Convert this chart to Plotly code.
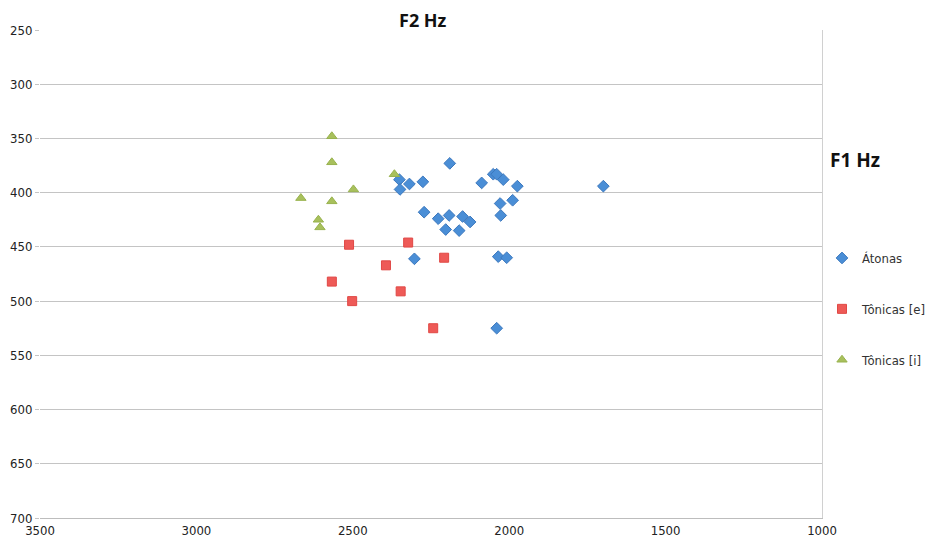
import plotly.graph_objects as go

# Átonas (F2, F1)
atonas_f2 = [2190, 2351, 2349, 2319, 2276, 2088, 2051, 2040, 2019, 1974, 1699, 2029, 1989,
             2027, 2272, 2227, 2192, 2149, 2125, 2203, 2160, 2303, 2035, 2008, 2040]
atonas_f1 = [373, 388, 397, 392, 390, 391, 383, 383, 388, 394, 394, 410, 407,
             421, 418, 424, 421, 422, 427, 434, 435, 461, 459, 460, 525]

# Tônicas [e]
tonicas_e_f2 = [2512, 2323, 2208, 2394, 2567, 2347, 2502, 2243]
tonicas_e_f1 = [448, 446, 460, 467, 482, 491, 500, 525]

# Tônicas [i]
tonicas_i_f2 = [2567, 2567, 2367, 2498, 2666, 2567, 2610, 2605]
tonicas_i_f1 = [348, 372, 383, 397, 405, 408, 425, 432]

x_ticks = [3500, 3000, 2500, 2000, 1500, 1000]
y_ticks = [250, 300, 350, 400, 450, 500, 550, 600, 650, 700]

FONT = "DejaVu Sans Condensed, Liberation Sans Narrow, Open Sans, sans-serif"
TITLE_FONT = "Open Sans, sans-serif"

# page body adds an 8px offset; figure is sized to fit the window
W, H = 932, 538
L, T, PW, PH = 32, 22, 782, 488

fig = go.Figure()
fig.add_trace(go.Scatter(
    x=atonas_f2, y=atonas_f1, mode="markers", name="Átonas", legendgroup="a",
    marker=dict(symbol="diamond", size=9, color="#4A8ED6",
                line=dict(color="#3C78BE", width=1))))
fig.add_trace(go.Scatter(
    x=tonicas_e_f2, y=tonicas_e_f1, mode="markers", name="Tônicas [e]", legendgroup="e",
    marker=dict(symbol="square", size=9, color="#EE5A57",
                line=dict(color="#E04845", width=1))))
fig.add_trace(go.Scatter(
    x=tonicas_i_f2, y=tonicas_i_f1, mode="markers", name="Tônicas [i]", legendgroup="i",
    marker=dict(symbol="triangle-up", size=9, color="#A8C05C",
                line=dict(color="#98B24E", width=1))))
# invisible trace to carry the right-side frame axis
fig.add_trace(go.Scatter(x=[None], y=[None], yaxis="y2", showlegend=False, hoverinfo="skip"))

fig.update_layout(
    template="none",
    width=W, height=H,
    margin=dict(l=L, r=W - L - PW, t=T, b=H - T - PH, autoexpand=False),
    paper_bgcolor="white", plot_bgcolor="white",
    font=dict(family=FONT, size=13, color="#222222"),
    xaxis=dict(range=[3500, 1000], tickvals=x_ticks, ticktext=[str(v) for v in x_ticks],
               showgrid=False, zeroline=False, showline=True, linecolor="#BDBDBD",
               linewidth=1, ticks="", automargin=False,
               tickfont=dict(family=FONT, size=13, color="#222222")),
    yaxis=dict(range=[700, 250], tickvals=y_ticks, ticktext=[str(v) for v in y_ticks],
               showgrid=True, gridcolor="#C4C4C4", gridwidth=1, zeroline=False,
               showline=False, ticks="outside", ticklen=4, tickcolor="#C4C4C4",
               automargin=False,
               tickfont=dict(family=FONT, size=13, color="#222222")),
    yaxis2=dict(overlaying="y", side="right", matches="y", showline=True,
                linecolor="#D0D0D0", linewidth=1, showticklabels=False, showgrid=False,
                zeroline=False, ticks="", automargin=False),
    legend=dict(x=1.0, xanchor="left", y=(PH - (243 - 8 - T)) / PH, yanchor="top",
                tracegroupgap=31, font=dict(family=FONT, size=13, color="#333333"),
                itemwidth=30, bgcolor="rgba(0,0,0,0)"),
    showlegend=True,
    annotations=[
        dict(text="<b>F2 Hz</b>", xref="paper", yref="paper",
             x=(423 - 8 - L) / PW, y=1 + (T - (20 - 8)) / PH, xanchor="center", yanchor="middle",
             showarrow=False, borderpad=0,
             font=dict(family=TITLE_FONT, size=18, color="#111111")),
        dict(text="<b>F1 Hz</b>", xref="paper", yref="paper",
             x=(855 - 8 - L) / PW, y=(PH - (160 - 8 - T)) / PH, xanchor="center", yanchor="middle",
             showarrow=False, borderpad=0,
             font=dict(family=TITLE_FONT, size=19, color="#111111")),
    ],
)

fig.write_html("out.html")
